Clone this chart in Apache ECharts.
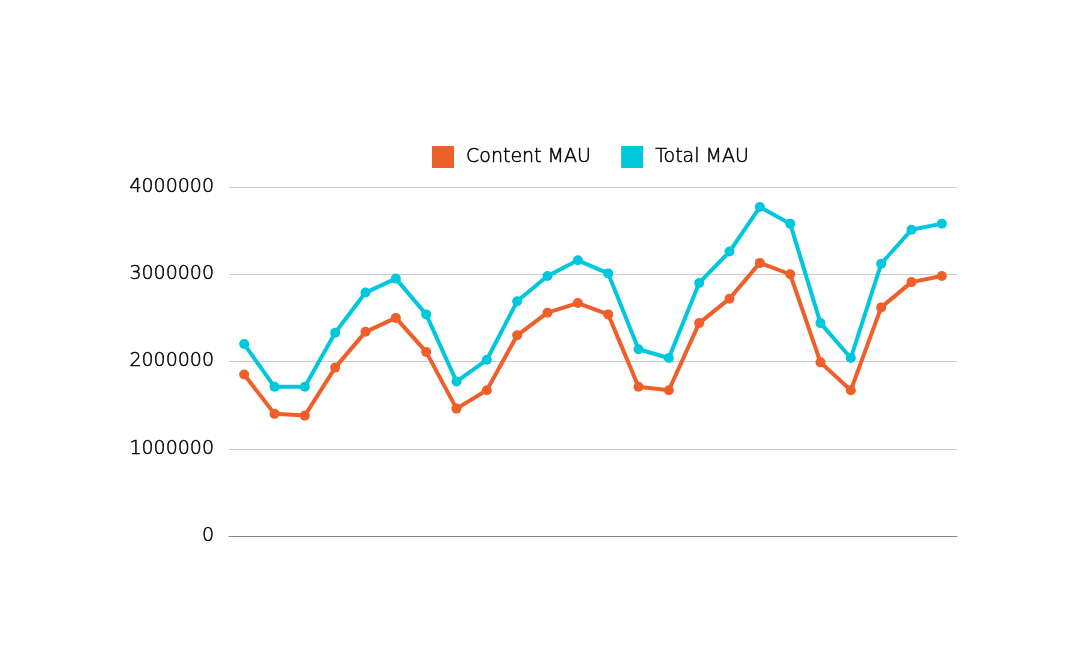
<!DOCTYPE html>
<html>
<head>
<meta charset="utf-8">
<script src="https://cdn.jsdelivr.net/npm/echarts@6/dist/echarts.min.js"></script>
<style>html,body{margin:0;padding:0;background:#fff}#c{width:1082px;height:670px}</style>
</head>
<body>
<div id="c"></div>
<script>
const categories = ['M1','M2','M3','M4','M5','M6','M7','M8','M9','M10','M11','M12','M13','M14','M15','M16','M17','M18','M19','M20','M21','M22','M23','M24'];
const contentMAU = [1850000,1400000,1380000,1930000,2340000,2500000,2110000,1460000,1670000,2300000,2560000,2670000,2540000,1710000,1670000,2440000,2720000,3130000,3000000,1990000,1670000,2620000,2910000,2980000];
const totalMAU = [2200000,1710000,1710000,2330000,2790000,2950000,2540000,1770000,2020000,2690000,2980000,3160000,3010000,2140000,2040000,2900000,3260000,3770000,3580000,2440000,2040000,3120000,3510000,3580000];
const yTicks = [0,1000000,2000000,3000000,4000000];

const chart = echarts.init(document.getElementById('c'), null, {renderer:'canvas'});
const fontFamily = '"DejaVu Sans", sans-serif';
chart.setOption({
  animation:false,
  backgroundColor:'#ffffff',
  legend:{
    left:432, top:146, padding:0,
    itemWidth:22, itemHeight:22, itemGap:30,
    icon:'rect',
    textStyle:{fontFamily, fontSize:19, fontWeight:200, color:'#000', textBorderColor:'#000', textBorderWidth:0.5, padding:[6,0,0,7]},
    data:['Content MAU','Total MAU']
  },
  grid:{left:229, right:125, top:187, bottom:134, containLabel:false},
  xAxis:{
    type:'category', data:categories, boundaryGap:true,
    axisLine:{show:true, lineStyle:{color:'#888', width:1}},
    axisTick:{show:false}, axisLabel:{show:false}
  },
  yAxis:{
    type:'value', min:yTicks[0], max:yTicks[yTicks.length-1], interval:1000000,
    axisLine:{show:false}, axisTick:{show:false},
    axisLabel:{fontFamily, fontSize:19, fontWeight:200, color:'#000', textBorderColor:'#000', textBorderWidth:0.5, margin:15, formatter:function(v){return String(v);}},
    splitLine:{lineStyle:{color:'#cccccc', width:1}}
  },
  series:[
    {name:'Content MAU', type:'line', data:contentMAU, color:'#EF5F2A',
     symbol:'circle', symbolSize:10, lineStyle:{width:4}, itemStyle:{color:'#EF5F2A'}},
    {name:'Total MAU', type:'line', data:totalMAU, color:'#00C7DC',
     symbol:'circle', symbolSize:10, lineStyle:{width:4}, itemStyle:{color:'#00C7DC'}}
  ]
});
</script>
</body>
</html>
